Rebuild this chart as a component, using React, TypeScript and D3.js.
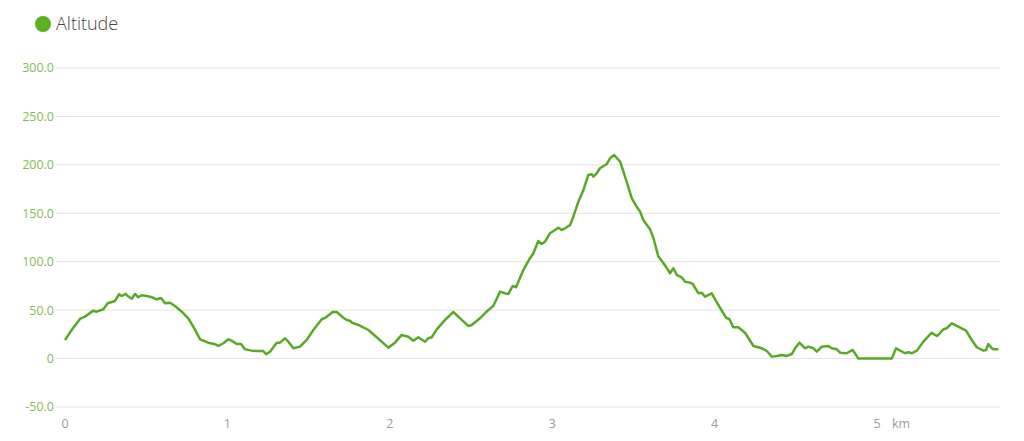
import React from "react";
import * as d3 from "d3";

const distanceKm: number[] = [
  0, 0.041, 0.092, 0.123, 0.174, 0.195, 0.236, 0.263, 0.308, 0.333, 0.349, 0.374, 0.386, 0.411, 0.431, 0.451, 0.472, 0.503, 0.534, 0.565,
  0.591, 0.616, 0.647, 0.677, 0.719, 0.759, 0.79, 0.832, 0.882, 0.919, 0.944, 0.975, 1.006, 1.026, 1.057, 1.084, 1.108, 1.15, 1.18, 1.221,
  1.238, 1.262, 1.304, 1.324, 1.355, 1.375, 1.406, 1.447, 1.488, 1.529, 1.581, 1.607, 1.648, 1.673, 1.714, 1.735, 1.755, 1.766, 1.806, 1.868,
  1.919, 1.991, 2.032, 2.073, 2.114, 2.145, 2.175, 2.217, 2.237, 2.258, 2.289, 2.34, 2.391, 2.443, 2.483, 2.504, 2.555, 2.607, 2.637, 2.679,
  2.709, 2.73, 2.757, 2.777, 2.822, 2.863, 2.884, 2.914, 2.935, 2.956, 2.986, 3.017, 3.038, 3.058, 3.079, 3.11, 3.13, 3.161, 3.192, 3.222,
  3.243, 3.253, 3.274, 3.294, 3.336, 3.356, 3.381, 3.418, 3.442, 3.49, 3.52, 3.541, 3.561, 3.602, 3.623, 3.653, 3.684, 3.701, 3.725, 3.746,
  3.767, 3.797, 3.818, 3.848, 3.865, 3.9, 3.921, 3.941, 3.982, 4.023, 4.07, 4.091, 4.115, 4.146, 4.187, 4.239, 4.29, 4.321, 4.352, 4.383,
  4.413, 4.444, 4.475, 4.495, 4.522, 4.557, 4.577, 4.608, 4.629, 4.66, 4.7, 4.721, 4.752, 4.772, 4.813, 4.85, 4.885, 5.091, 5.117, 5.172,
  5.193, 5.214, 5.245, 5.285, 5.337, 5.357, 5.371, 5.408, 5.429, 5.46, 5.491, 5.548, 5.583, 5.614, 5.655, 5.671, 5.685, 5.706, 5.721, 5.747,
];

const altitudeM: number[] = [
  19.2, 29.5, 40.9, 43.3, 49.5, 48.4, 50.9, 57.1, 59.5, 66.4, 64.6, 66.7, 64.6, 61.8, 66.7, 63.3, 65.4, 64.6, 63.3, 61.2,
  62.6, 57.1, 57.7, 54.3, 48.4, 41.6, 32.9, 19.9, 16.4, 15.1, 13.0, 15.8, 19.9, 18.5, 15.1, 15.1, 9.6, 8.2, 7.8, 7.8,
  4.4, 7.1, 16.4, 16.4, 21.0, 17.4, 10.6, 12.3, 19.2, 29.5, 40.6, 42.6, 48.1, 48.1, 42.2, 39.9, 39.1, 37.1, 34.7, 29.5,
  22.0, 11.3, 16.4, 24.4, 22.6, 18.5, 22.0, 17.4, 21.0, 22.0, 30.2, 39.9, 48.1, 39.9, 33.7, 34.7, 41.6, 50.2, 54.3, 69.1,
  67.4, 66.7, 75.0, 73.6, 91.5, 103.6, 108.7, 121.4, 118.3, 120.7, 129.4, 132.8, 135.1, 132.8, 134.5, 137.9, 146.5, 162.0, 174.1, 189.5,
  190.3, 187.8, 191.3, 196.5, 200.9, 206.8, 210.2, 203.3, 191.3, 165.5, 156.8, 151.7, 143.1, 133.5, 124.5, 105.6, 98.7, 94.6, 88.1, 93.2,
  86.3, 83.9, 79.4, 78.4, 77.0, 67.4, 68.0, 63.9, 67.4, 55.3, 42.2, 40.6, 32.3, 32.3, 26.7, 13.0, 10.6, 7.8, 2.0, 2.7,
  3.7, 2.7, 4.7, 10.6, 16.4, 10.6, 12.3, 10.6, 7.1, 12.3, 13.0, 10.6, 9.6, 6.1, 5.5, 8.9, 0, 0, 10.6, 5.5,
  6.5, 5.5, 8.2, 17.4, 26.7, 24.4, 23.3, 30.2, 31.3, 36.4, 33.7, 28.8, 19.2, 11.7, 8.2, 8.9, 15.1, 10.6, 9.6, 9.6,
];

const yTicks: number[] = [-50, 0, 50, 100, 150, 200, 250, 300];
const xTicks: number[] = [0, 1, 2, 3, 4, 5];
const seriesName = "Altitude";
const xUnit = "km";

export default function App() {
  const width = 1024;
  const height = 441;
  const x = d3.scaleLinear().domain([0, 5.757]).range([65, 1000]);
  const y = d3.scaleLinear().domain([-50, 300]).range([407, 68]);
  const points = distanceKm.map((d, i) => [d, altitudeM[i]] as [number, number]);
  const line = d3
    .line<[number, number]>()
    .x((d) => x(d[0]))
    .y((d) => y(d[1]))
    .curve(d3.curveLinear);

  const yFmt = (v: number) => (v === 0 ? "0" : v.toFixed(1));

  return (
    <svg
      width={width}
      height={height}
      style={{ position: "absolute", left: 0, top: 0, background: "#fff" }}
      fontFamily="'Open Sans', sans-serif"
    >
      <circle cx={43} cy={24} r={8} fill="#5db31f" />
      <text x={56} y={30} fontSize={18} fill="#444" fontWeight={300}>
        {seriesName}
      </text>

      {yTicks.map((t) => (
        <g key={t}>
          <line x1={56} x2={1000} y1={y(t)} y2={y(t)} stroke="#e3e3e3" strokeWidth={1} />
          <text x={54} y={y(t)} dy="0.35em" textAnchor="end" fontSize={12.5} fill="#86bb52">
            {yFmt(t)}
          </text>
        </g>
      ))}

      {xTicks.map((t) => (
        <text key={t} x={x(t)} y={428} textAnchor="middle" fontSize={12.5} fill="#9a9a9a">
          {t}
        </text>
      ))}
      <text x={x(5) + 15} y={428} fontSize={12.5} fill="#9a9a9a">
        {xUnit}
      </text>

      <path d={line(points) || ""} fill="none" stroke="#5aa82a" strokeWidth={2.5} strokeLinejoin="round" />
    </svg>
  );
}
